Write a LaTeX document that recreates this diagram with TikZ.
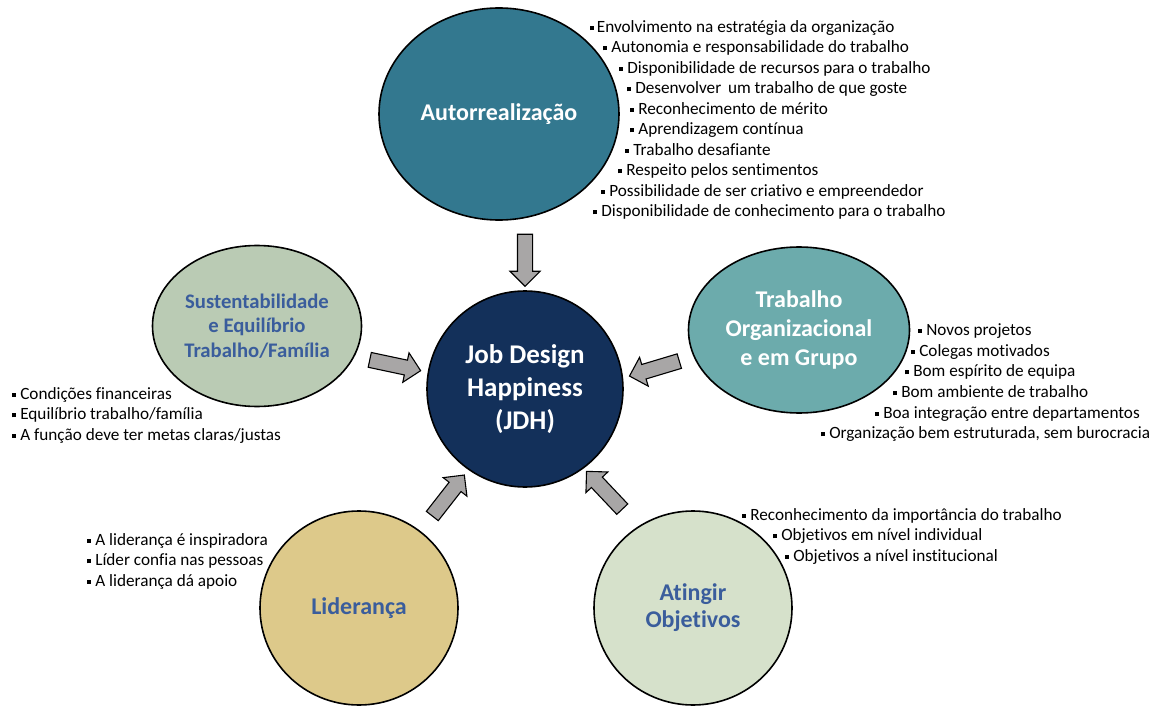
\documentclass[tikz,border=0pt]{standalone}
\usepackage{fontspec}
\setmainfont{Carlito}[Ligatures=NoCommon]
\usetikzlibrary{shapes.geometric,shapes.arrows}

\definecolor{autofill}{HTML}{33788F}
\definecolor{jdhfill}{HTML}{13305A}
\definecolor{susfill}{HTML}{BACBB4}
\definecolor{orgfill}{HTML}{6CABAC}
\definecolor{lidfill}{HTML}{DDC98A}
\definecolor{objfill}{HTML}{D6E1CB}
\definecolor{labelblue}{HTML}{3A5D9C}
\definecolor{arrowgray}{HTML}{A8A6A6}

% small square bullet
\newcommand\sqb{\raisebox{2.3pt}{\rule{4.2pt}{4.2pt}}}

\begin{document}
\begin{tikzpicture}[x=1pt,y=-1pt,
  bubble/.style={ellipse, draw=black, line width=1.6pt, inner sep=0pt,
    align=center, font=\bfseries},
  blockarrow/.style={single arrow, draw=black, line width=1.1pt, fill=arrowgray,
    inner xsep=0pt, inner ysep=7pt, text height=0pt, text depth=0pt,
    minimum height=52pt, minimum width=29pt,
    single arrow head extend=7.5pt, single arrow head indent=0pt},
  listitem/.style={anchor=west, inner sep=0pt, text=black,
    font=\fontsize{17.2}{20}\selectfont, text height=11.5pt, text depth=3pt}]
\useasboundingbox (0,0) rectangle (1160,706);

% the six circles
\node[bubble, fill=autofill, text=white, minimum width=240pt, minimum height=212pt,
  font=\bfseries\fontsize{24}{29}\selectfont] (auto) at (499,114) {Autorrealização};
\node[bubble, fill=jdhfill, text=white, minimum width=196pt, minimum height=196pt,
  font=\bfseries\fontsize{27}{33}\selectfont] (jdh) at (525,389) {Job Design\\Happiness\\(JDH)};
\node[bubble, fill=susfill, text=labelblue, minimum width=209pt, minimum height=161pt,
  font=\bfseries\fontsize{20.7}{24.5}\selectfont] (sus) at (257,326)
  {Sustentabilidade\\e Equilíbrio\\Trabalho/Família};
\node[bubble, fill=orgfill, text=white, minimum width=221pt, minimum height=166pt,
  font=\bfseries\fontsize{24}{29}\selectfont] (org) at (799,330)
  {Trabalho\\Organizacional\\e em Grupo};
\node[bubble, fill=lidfill, text=labelblue, minimum width=198pt, minimum height=194pt,
  font=\bfseries\fontsize{24}{29}\selectfont] (lid) at (359,608) {Liderança};
\node[bubble, fill=objfill, text=labelblue, minimum width=198pt, minimum height=194pt,
  font=\bfseries\fontsize{24}{27}\selectfont] (obj) at (693,608) {Atingir\\Objetivos};

% block arrows pointing at the centre
\node[blockarrow, rotate=-90] (a-auto) at (525,256.5) {};
\node[blockarrow, rotate=-12] (a-sus) at (391.5,364.5) {};
\node[blockarrow, rotate=-163.3] (a-org) at (658,367.5) {};
\node[blockarrow, rotate=52] (a-lid) at (446,498.5) {};
\node[blockarrow, rotate=133.4] (a-obj) at (607,493) {};

% Autorrealização
\node[listitem] (t1) at (590,28.3) {\sqb\hspace{2.5pt}Envolvimento na estratégia da organização};
\node[listitem] (t2) at (603,48.5) {\sqb\ Autonomia e responsabilidade do trabalho};
\node[listitem] (t3) at (619,69) {\sqb\ Disponibilidade de recursos para o trabalho};
\node[listitem] (t4) at (627,89.5) {\sqb\ Desenvolver\ \,um trabalho de que goste};
\node[listitem] (t5) at (630,110) {\sqb\ Reconhecimento de mérito};
\node[listitem] (t6) at (630,130.5) {\sqb\ Aprendizagem contínua};
\node[listitem] (t7) at (625,151) {\sqb\ Trabalho desafiante};
\node[listitem] (t8) at (618,171.5) {\sqb\ Respeito pelos sentimentos};
\node[listitem] (t9) at (601,192) {\sqb\ Possibilidade de ser criativo e empreendedor};
\node[listitem] (t10) at (593,212.5) {\sqb\ Disponibilidade de conhecimento para o trabalho};

% Trabalho organizacional
\node[listitem] (r1) at (918,331) {\sqb\ Novos projetos};
\node[listitem] (r2) at (911,352) {\sqb\ Colegas motivados};
\node[listitem] (r3) at (905,372.5) {\sqb\ Bom espírito de equipa};
\node[listitem] (r4) at (893,393.5) {\sqb\ Bom ambiente de trabalho};
\node[listitem] (r5) at (875,414) {\sqb\ Boa integração entre departamentos};
\node[listitem] (r6) at (821,434.5) {\sqb\ Organização bem estruturada, sem burocracia};

% Sustentabilidade
\node[listitem] (l1) at (12,395) {\sqb\ Condições financeiras};
\node[listitem] (l2) at (12,415.5) {\sqb\ Equilíbrio trabalho/família};
\node[listitem] (l3) at (12,436) {\sqb\ A função deve ter metas claras/justas};

% Liderança
\node[listitem] (d1) at (87,541) {\sqb\ A liderança é inspiradora};
\node[listitem] (d2) at (87,561.5) {\sqb\ Líder confia nas pessoas};
\node[listitem] (d3) at (87,582) {\sqb\ A liderança dá apoio};

% Atingir objetivos
\node[listitem] (o1) at (742,516) {\sqb\ Reconhecimento da importância do trabalho};
\node[listitem] (o2) at (773,536.5) {\sqb\ Objetivos em nível individual};
\node[listitem] (o3) at (785,557) {\sqb\ Objetivos a nível institucional};
\end{tikzpicture}
\end{document}
